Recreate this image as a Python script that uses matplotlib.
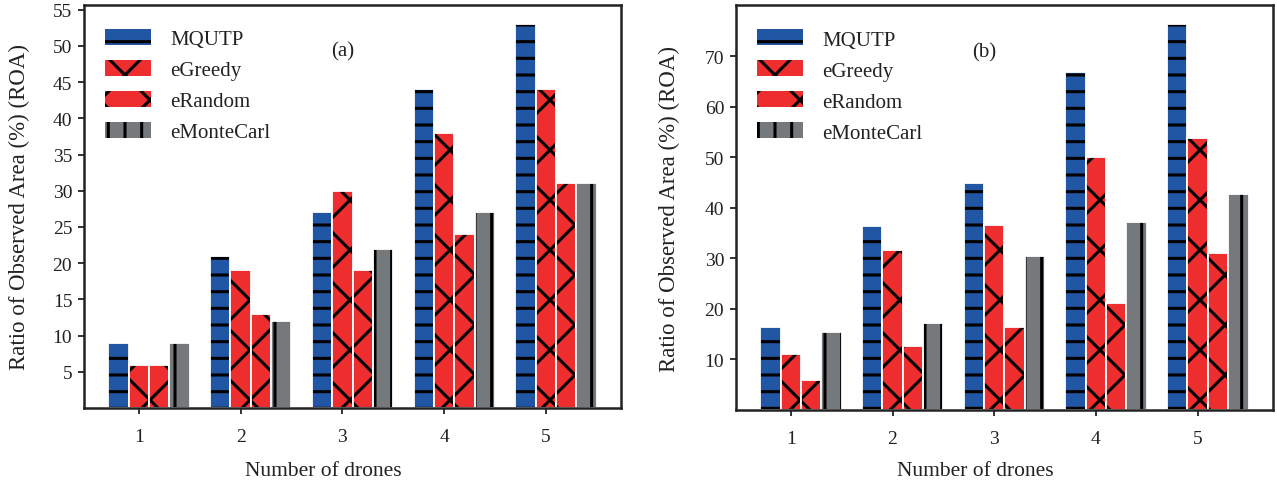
import numpy as np
import matplotlib
matplotlib.use("Agg")
import matplotlib.pyplot as plt
import matplotlib.hatch as mhatch

# ---------------- data ----------------
drones = [1, 2, 3, 4, 5]
methods = ["MQUTP", "eGreedy", "eRandom", "eMonteCarl"]

roa_a_mqutp = [9, 21, 27, 44, 53]
roa_a_egreedy = [6, 19, 30, 38, 44]
roa_a_erandom = [6, 13, 19, 24, 31]
roa_a_emontecarl = [9, 12, 22, 27, 31]

roa_b_mqutp = [16.5, 36.4, 45.0, 66.8, 76.3]
roa_b_egreedy = [11.0, 31.6, 36.6, 50.1, 53.9]
roa_b_erandom = [5.9, 12.6, 16.5, 21.1, 31.0]
roa_b_emontecarl = [15.4, 17.2, 30.5, 37.2, 42.8]

yticks_a = [5, 10, 15, 20, 25, 30, 35, 40, 45, 50, 55]
yticks_b = [10, 20, 30, 40, 50, 60, 70]

# ---------------- sparser cross hatch ----------------
class SparseNE(mhatch.NorthEastHatch):
    def __init__(self, hatch, density):
        n = hatch.count('/') * int(density) + hatch.count('x') * 4 + hatch.count('X') * int(density * 2)
        self.num_lines = n
        self.num_vertices = (n + 1) * 2 if n else 0


class SparseSE(mhatch.SouthEastHatch):
    def __init__(self, hatch, density):
        n = hatch.count('\\') * int(density) + hatch.count('x') * 4 + hatch.count('X') * int(density * 2)
        self.num_lines = n
        self.num_vertices = (n + 1) * 2 if n else 0


mhatch._hatch_types = [SparseNE if t is mhatch.NorthEastHatch else
                       SparseSE if t is mhatch.SouthEastHatch else t
                       for t in mhatch._hatch_types]

plt.rcParams['font.family'] = ['Liberation Serif', 'DejaVu Serif']
plt.rcParams['hatch.linewidth'] = 2.2

colors = ['#2156a5', '#ee2e2e', '#ee2e2e', '#76797c']
hatches = ['-', 'x', 'x', '|']
TXT = '#222222'

fig = plt.figure(figsize=(12.77, 4.85), dpi=100)
ax_a = fig.add_axes([0.0658, 0.1567, 0.4205, 0.831])
ax_b = fig.add_axes([0.5763, 0.1526, 0.4205, 0.835])


def draw(ax, series, yticks, tag, tagx, ylab_x, xlab_y):
    x = np.array(drones, dtype=float)
    w = 0.2
    for i, (vals, name) in enumerate(zip(series, methods)):
        # hatched fill (hatch follows edge colour)
        ax.bar(x + (i - 1) * w, vals, width=w, color=colors[i], hatch=hatches[i],
               edgecolor='black', linewidth=0, label=name)
        # white outline on top
        ax.bar(x + (i - 1) * w, vals, width=w, fill=False,
               edgecolor='white', linewidth=1.3)
    ax.set_xticks(drones)
    ax.set_xticklabels([str(d) for d in drones])
    ax.set_yticks(yticks)
    ax.tick_params(axis='both', labelsize=14, direction='out', length=4.5, width=1.3,
                   colors=TXT)
    ax.tick_params(axis='x', pad=10)
    ax.tick_params(axis='y', pad=4)
    for s in ax.spines.values():
        s.set_linewidth(1.8)
        s.set_color(TXT)
    ax.set_xlabel('Number of drones', fontsize=15.5, color=TXT)
    ax.set_ylabel('Ratio of Observed Area (%) (ROA)', fontsize=16.5, color=TXT)
    ax.xaxis.set_label_coords(0.445, xlab_y)
    ax.yaxis.set_label_coords(ylab_x, 0.5)
    ax.text(tagx, 0.885, tag, transform=ax.transAxes, fontsize=15,
            ha='center', va='center', color=TXT)
    leg = ax.legend(loc='upper left', bbox_to_anchor=(0.039, 0.94), frameon=False,
                    borderaxespad=0, borderpad=0,
                    fontsize=15, handlelength=2.2, handleheight=0.8,
                    labelspacing=0.52, handletextpad=0.95)
    for t in leg.get_texts():
        t.set_color(TXT)


draw(ax_a, [roa_a_mqutp, roa_a_egreedy, roa_a_erandom, roa_a_emontecarl], yticks_a,
     '(a)', 0.482, -0.1, -0.132)
draw(ax_b, [roa_b_mqutp, roa_b_egreedy, roa_b_erandom, roa_b_emontecarl], yticks_b,
     '(b)', 0.462, -0.104, -0.126)

fig.savefig('out.png', dpi=100)
